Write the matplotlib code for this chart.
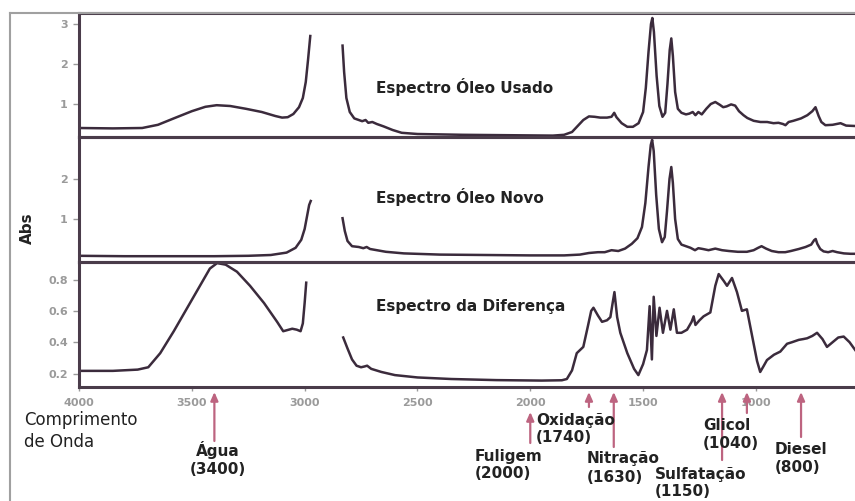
import numpy as np
import matplotlib.pyplot as plt
from matplotlib.lines import Line2D

nan = np.nan

# used oil spectrum (NaN marks the gap around the CH stretch region)
used_wn = [4000, 3850, 3720, 3650, 3580, 3500, 3440, 3390, 3330, 3260, 3190, 3130, 3100, 3075,
           3050, 3025, 3008, 2995, 2985, 2975, nan,
           2832, 2825, 2815, 2800, 2780, 2760, 2745, 2730, 2718, 2700, 2680, 2650, 2610, 2570,
           2500, 2300, 2100, 1900, 1850, 1815, 1790, 1765, 1740, 1715, 1690, 1660, 1640, 1628,
           1618, 1595, 1570, 1545, 1520, 1500, 1488, 1476, 1465, 1459, 1452, 1440, 1428, 1414,
           1402, 1392, 1382, 1375, 1368, 1358, 1346, 1330, 1310, 1295, 1280, 1268, 1255, 1240,
           1220, 1200, 1180, 1160, 1145, 1130, 1110, 1092, 1075, 1055, 1038, 1010, 980, 950,
           922, 900, 880, 869, 855, 834, 800, 772, 750, 736, 722, 710, 692, 660, 625, 600, 560]
used_abs = [0.40, 0.39, 0.40, 0.48, 0.64, 0.82, 0.93, 0.97, 0.95, 0.88, 0.80, 0.70, 0.66, 0.67,
            0.75, 0.92, 1.15, 1.55, 2.10, 2.70, nan,
            2.46, 1.80, 1.15, 0.80, 0.64, 0.60, 0.57, 0.60, 0.53, 0.55, 0.50, 0.44, 0.35, 0.28,
            0.25, 0.23, 0.22, 0.21, 0.23, 0.30, 0.45, 0.60, 0.69, 0.68, 0.66, 0.66, 0.68, 0.78,
            0.67, 0.52, 0.43, 0.43, 0.52, 0.80, 1.40, 2.30, 3.00, 3.15, 2.80, 1.70, 0.95, 0.68,
            0.78, 1.50, 2.35, 2.64, 2.20, 1.30, 0.88, 0.78, 0.74, 0.76, 0.80, 0.72, 0.80, 0.74,
            0.88, 1.00, 1.05, 0.98, 0.92, 0.94, 0.99, 0.96, 0.82, 0.72, 0.65, 0.58, 0.55, 0.55,
            0.52, 0.53, 0.50, 0.47, 0.55, 0.58, 0.64, 0.72, 0.82, 0.92, 0.70, 0.55, 0.47, 0.48,
            0.52, 0.46, 0.45]

# new oil spectrum
new_wn = [4000, 3800, 3600, 3400, 3250, 3150, 3080, 3040, 3015, 3000, 2990, 2980, 2973, nan,
          2832, 2822, 2810, 2790, 2760, 2740, 2725, 2710, 2680, 2640, 2560, 2400, 2200, 2000,
          1850, 1780, 1740, 1700, 1670, 1640, 1610, 1580, 1550, 1525, 1505, 1490, 1476, 1466,
          1460, 1453, 1442, 1430, 1416, 1404, 1394, 1383, 1375, 1368, 1358, 1346, 1330, 1310,
          1290, 1270, 1255, 1235, 1210, 1180, 1150, 1120, 1080, 1040, 1010, 990, 975, 955, 930,
          900, 870, 845, 810, 780, 755, 742, 735, 728, 715, 700, 680, 660, 640, 610, 580, 560]
new_abs = [0.08, 0.07, 0.07, 0.07, 0.08, 0.10, 0.16, 0.28, 0.48, 0.75, 1.05, 1.35, 1.45, nan,
           1.02, 0.70, 0.45, 0.32, 0.30, 0.27, 0.30, 0.25, 0.22, 0.18, 0.14, 0.11, 0.10, 0.09,
           0.09, 0.11, 0.15, 0.17, 0.17, 0.22, 0.20, 0.26, 0.38, 0.52, 0.80, 1.40, 2.30, 2.85,
           2.98, 2.70, 1.60, 0.75, 0.42, 0.55, 1.20, 2.00, 2.30, 1.90, 1.00, 0.50, 0.36, 0.32,
           0.28, 0.22, 0.27, 0.25, 0.22, 0.26, 0.22, 0.20, 0.18, 0.18, 0.22, 0.28, 0.32, 0.26,
           0.20, 0.17, 0.17, 0.20, 0.25, 0.30, 0.36, 0.47, 0.50, 0.38, 0.25, 0.19, 0.17, 0.20,
           0.17, 0.14, 0.13, 0.13]

# difference spectrum (used - new)
diff_wn = [4000, 3850, 3740, 3693, 3640, 3580, 3520, 3460, 3420, 3388, 3350, 3300, 3242, 3180,
           3122, 3095, 3070, 3055, 3035, 3018, 3008, 3000, 2993, nan,
           2829, 2810, 2790, 2770, 2750, 2735, 2723, 2705, 2660, 2600, 2500, 2350, 2150, 1950,
           1860, 1838, 1815, 1794, 1765, 1745, 1730, 1720, 1700, 1682, 1660, 1645, 1635, 1627,
           1615, 1601, 1570, 1540, 1521, 1500, 1483, 1471, 1461, 1453, 1441, 1427, 1412, 1394,
           1379, 1364, 1350, 1330, 1305, 1285, 1276, 1268, 1250, 1232, 1202, 1180, 1165, 1142,
           1128, 1106, 1084, 1062, 1040, 1010, 995, 981, 965, 951, 920, 892, 862, 840, 810, 790,
           773, 750, 729, 705, 685, 660, 635, 611, 585, 560]
diff_abs = [0.217, 0.217, 0.225, 0.24, 0.33, 0.47, 0.62, 0.77, 0.87, 0.905, 0.895, 0.85, 0.76,
            0.65, 0.53, 0.47, 0.48, 0.486, 0.48, 0.47, 0.52, 0.65, 0.78, nan,
            0.43, 0.36, 0.29, 0.25, 0.24, 0.245, 0.25, 0.23, 0.21, 0.19, 0.175, 0.165, 0.158,
            0.155, 0.157, 0.165, 0.22, 0.33, 0.37, 0.50, 0.60, 0.62, 0.57, 0.53, 0.54, 0.56,
            0.65, 0.72, 0.56, 0.46, 0.33, 0.23, 0.19, 0.26, 0.35, 0.63, 0.29, 0.69, 0.44, 0.62,
            0.46, 0.60, 0.48, 0.61, 0.46, 0.46, 0.48, 0.53, 0.565, 0.51, 0.54, 0.565, 0.59, 0.76,
            0.835, 0.79, 0.76, 0.81, 0.72, 0.60, 0.61, 0.39, 0.28, 0.21, 0.25, 0.286, 0.32, 0.34,
            0.39, 0.40, 0.415, 0.42, 0.425, 0.44, 0.46, 0.42, 0.37, 0.40, 0.43, 0.436, 0.40, 0.35]

# contaminant bands marked under the x axis
band_names = ['Água', 'Fuligem', 'Oxidação', 'Nitração', 'Sulfatação', 'Glicol', 'Diesel']
band_wn = [3400, 2000, 1740, 1630, 1150, 1040, 800]

line_col = '#3b2b3c'
spine_col = '#4a3c4a'
tick_col = '#9a9a9a'
arrow_col = '#bd6480'
text_col = '#222222'

fig = plt.figure(figsize=(8.55, 5.01), dpi=100)
W, H = 855, 501


def px_axes(left, top, right, bottom):
    return fig.add_axes([left / W, 1 - bottom / H, (right - left) / W, (bottom - top) / H])


ax_used = px_axes(79, 13, 857, 137)
ax_new = px_axes(79, 137, 857, 262)
ax_diff = px_axes(79, 262, 857, 387)

panels = [
    (ax_used, used_wn, used_abs, (0.175, 3.275), [1, 2, 3], 'Espectro Óleo Usado', 0.40),
    (ax_new, new_wn, new_abs, (-0.075, 3.05), [1, 2], 'Espectro Óleo Novo', 0.52),
    (ax_diff, diff_wn, diff_abs, (0.114, 0.912), [0.2, 0.4, 0.6, 0.8], 'Espectro da Diferença', 0.648),
]

for ax, wn, ab, ylim, yt, title, ty in panels:
    ax.plot(wn, ab, color=line_col, lw=1.8, solid_joinstyle='round')
    ax.set_xlim(4000, 552)
    ax.set_ylim(*ylim)
    ax.set_yticks(yt)
    ax.set_yticklabels([('%g' % v) for v in yt])
    for s in ax.spines.values():
        s.set_color(spine_col)
        s.set_linewidth(2.2)
    ax.tick_params(axis='y', colors=tick_col, labelcolor=tick_col, labelsize=8, length=4,
                   width=1, pad=4)
    for lbl in ax.get_yticklabels():
        lbl.set_fontweight('bold')
    ax.text(0.382, ty, title, transform=ax.transAxes, fontsize=11, fontweight='bold',
            color=text_col, va='center', ha='left')
    ax.set_facecolor('none')

for ax in (ax_used, ax_new):
    ax.set_xticks([])

ax_diff.set_xticks([4000, 3500, 3000, 2500, 2000, 1500, 1000])
ax_diff.tick_params(axis='x', colors=tick_col, labelcolor=tick_col, labelsize=8, length=3,
                    width=1, pad=5)
for lbl in ax_diff.get_xticklabels():
    lbl.set_fontweight('bold')

# outer frame of the figure
fig.add_artist(Line2D([10 / W, 10 / W], [0, 1 - 13 / H], color='#a0a0a0', lw=1.5))
fig.add_artist(Line2D([10 / W, 1], [1 - 13 / H, 1 - 13 / H], color='#a0a0a0', lw=1.5))

fig.text(27 / W, 1 - 228 / H, 'Abs', rotation=90, fontsize=11, fontweight='bold',
         color=text_col, ha='center', va='center')
fig.text(24 / W, 1 - 431 / H, 'Comprimento\nde Onda', fontsize=12, color=text_col,
         ha='left', va='center', linespacing=1.25)

# arrow head / tail and label placement, in pixels below the axis
arrow_head = [392, 412, 392, 392, 392, 392, 392]
arrow_tail = [441, 443, 407, 447, 460, 413, 437]
label_x = [218, 475, 536, 587, 655, 703, 775]
label_y = [459, 465, 429, 468, 483, 434, 458]
label_ha = ['center', 'left', 'left', 'left', 'left', 'left', 'left']

xt = ax_diff.get_xaxis_transform()
for name, wn, hy, ty, lx, ly, ha in zip(band_names, band_wn, arrow_head, arrow_tail,
                                        label_x, label_y, label_ha):
    ax_diff.annotate('', xy=(wn, (387 - hy) / 125), xytext=(wn, (387 - ty) / 125),
                     xycoords=xt, textcoords=xt, annotation_clip=False,
                     arrowprops=dict(arrowstyle='-|>,head_length=0.5,head_width=0.22',
                                     color=arrow_col, lw=1.6, shrinkA=0, shrinkB=0))
    fig.text(lx / W, 1 - ly / H, '%s\n(%d)' % (name, wn), fontsize=11, fontweight='bold',
             color=text_col, ha=ha, va='center', linespacing=1.25)

fig.savefig('out.png', dpi=100)
